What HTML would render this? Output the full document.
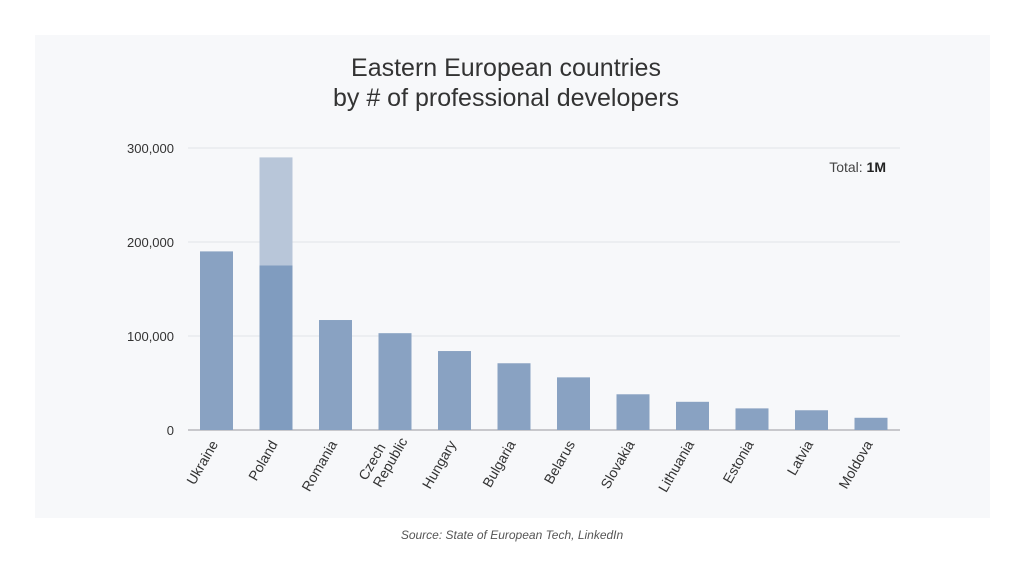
<!DOCTYPE html>
<html><head><meta charset="utf-8"><style>
html,body{margin:0;padding:0;background:#fff;width:1024px;height:576px;overflow:hidden;font-family:"Liberation Sans",sans-serif}
#card{position:absolute;left:35px;top:35px;width:955px;height:483px;background:#f7f8fa}
#src{position:absolute;left:0;width:1024px;top:528px;text-align:center;font-style:italic;font-size:12px;color:#555}
</style></head><body>
<div id="card"></div>
<svg id="chart" width="1024" height="576" style="position:absolute;left:0;top:0">
<text x="506" y="76" text-anchor="middle" font-size="25" fill="#333">Eastern European countries</text>
<text x="506" y="106" text-anchor="middle" font-size="25" fill="#333">by # of professional developers</text>
<text x="886" y="172" text-anchor="end" font-size="14" fill="#444">Total: <tspan font-weight="bold" fill="#222">1M</tspan></text>
<g id="grid"></g><g id="bars"></g><g id="xl"></g>
</svg>
<div id="src">Source: State of European Tech, LinkedIn</div>
<script>
const categories=["Ukraine","Poland","Romania","Czech|Republic","Hungary","Bulgaria","Belarus","Slovakia","Lithuania","Estonia","Latvia","Moldova"];
const values=[190000,175000,117000,103000,84000,71000,56000,38000,30000,23000,21000,13000];
const polandExtra=[0,115000,0,0,0,0,0,0,0,0,0,0];
const ticks=[0,100000,200000,300000];
const tickLabels=["0","100,000","200,000","300,000"];
const NS="http://www.w3.org/2000/svg";
const y0=430,pxPer=282/300000,x0=188,step=59.5,bw=33;
const y=v=>y0-v*pxPer, xc=i=>x0+28.5+i*step;
function mk(t,a,p){const e=document.createElementNS(NS,t);for(const k in a)e.setAttribute(k,a[k]);p.appendChild(e);return e;}
const g=document.getElementById('grid');
ticks.forEach((t,i)=>{
 const l=mk('line',{x1:188,x2:900,y1:y(t),y2:y(t),stroke:i==0?'#c8c8cc':'#e2e4e8','stroke-width':i==0?2:1},g);
 
 
 const tx=mk('text',{x:174,y:y(t)+5,'text-anchor':'end','font-size':13,fill:'#333'},g);
 tx.textContent=tickLabels[i];
 
 
});
const b=document.getElementById('bars'),xl=document.getElementById('xl');
categories.forEach((c,i)=>{
 const r=mk('rect',{x:xc(i)-bw/2,y:y(values[i]),width:bw,height:values[i]*pxPer,fill:i==1?'#809cbf':'#89a2c2'},b);
 
 
 if(polandExtra[i]>0){
  const e=mk('rect',{x:xc(i)-bw/2,y:y(values[i]+polandExtra[i]),width:bw,height:polandExtra[i]*pxPer,fill:'#b8c6d9'},b);
  
  
 }
 const parts=c.split('|');
 const t=mk('text',{transform:`translate(${xc(i)+2},${y0+14}) rotate(-60)`,'text-anchor':'end','font-size':14,fill:'#333'},xl);
 
 
 parts.forEach((p,k)=>{const s=mk('tspan',{x:parts.length>1?(k==0?-8:8):0,dy:k==0?(parts.length>1?-8:0):16},t);s.textContent=p;});
});
</script>
</body></html>
